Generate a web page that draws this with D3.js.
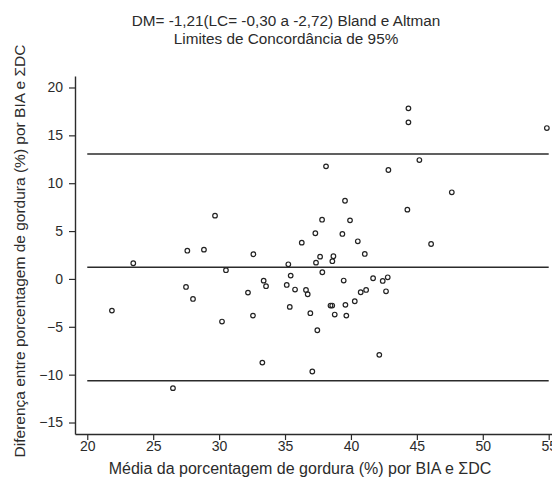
<!DOCTYPE html>
<html>
<head>
<meta charset="utf-8">
<script src="https://cdn.jsdelivr.net/npm/d3@7"></script>
<style>
  html, body { margin: 0; padding: 0; background: #fff; }
  svg { display: block; font-family: "Liberation Sans", Arial, sans-serif; }
</style>
</head>
<body>
<svg id="chart" width="552" height="479"></svg>
<script>
// Bland–Altman data: mean of the two methods (x) and their difference (y)
const meanPct = [
  44.36, 44.36, 54.86, 45.19, 42.84, 38.11, 47.65, 39.55, 44.28, 29.69,
  37.81, 39.93, 37.30, 39.35, 36.27, 40.52, 46.08, 27.59, 28.85, 32.60,
  41.05, 37.66, 38.67, 37.35, 38.59, 23.49, 35.25, 30.52, 37.83, 35.43,
  39.45, 41.68, 42.41, 42.79, 33.38, 33.56, 35.13, 27.49, 35.76, 36.59,
  36.72, 41.15, 40.74, 42.66, 32.19, 28.02, 40.29, 39.58, 38.45, 38.58,
  35.36, 21.87, 36.92, 38.77, 39.65, 32.57, 30.22, 37.45, 42.15, 33.28,
  37.07, 26.50
];
const diffPct = [
  17.82, 16.36, 15.76, 12.42, 11.38, 11.76, 9.05, 8.17, 7.24, 6.61,
  6.19, 6.12, 4.77, 4.70, 3.79, 3.93, 3.65, 2.95, 3.06, 2.58,
  2.61, 2.33, 2.37, 1.70, 1.85, 1.64, 1.53, 0.91, 0.70, 0.35,
  -0.17, 0.07, -0.21, 0.17, -0.18, -0.76, -0.63, -0.84, -1.11, -1.15,
  -1.60, -1.15, -1.39, -1.29, -1.43, -2.09, -2.33, -2.71, -2.78, -2.78,
  -2.92, -3.31, -3.58, -3.72, -3.83, -3.83, -4.45, -5.36, -7.93, -8.74,
  -9.67, -11.41
];

// Mean difference and 95% limits of agreement
const refLines = [13.05, 1.21, -10.65];
const refSpan = [20, 55];

const xTicks = [20, 25, 30, 35, 40, 45, 50, 55];
const yTicks = [-15, -10, -5, 0, 5, 10, 15, 20];
const xExtent = [19.07, 55.25];
const yExtent = [-16.2, 21.2];

const titleLines = [
  "DM= -1,21(LC= -0,30 a -2,72) Bland e Altman",
  "Limites de Concordância de 95%"
];
const xTitle = "Média da porcentagem de gordura (%) por BIA e ΣDC";
const yTitle = "Diferença entre porcentagem de gordura (%) por BIA e ΣDC";

const svg = d3.select("#chart");
const ink = "#2b2b2b";

const x = d3.scaleLinear().domain(xExtent).range([75, 552]);
const y = d3.scaleLinear().domain(yExtent).range([434, 76]);

// Axes
const xAxis = svg.append("g")
  .attr("transform", `translate(0,${y(yExtent[0])})`)
  .call(d3.axisBottom(x).tickValues(xTicks).tickSize(6).tickSizeOuter(0).tickPadding(1));
const yAxis = svg.append("g")
  .attr("transform", `translate(${x(xExtent[0])},0)`)
  .call(d3.axisLeft(y).tickValues(yTicks).tickSize(6).tickSizeOuter(0).tickPadding(6));

[xAxis, yAxis].forEach(g => {
  g.select(".domain").attr("stroke", ink).attr("stroke-width", 1.4);
  g.selectAll(".tick line").attr("stroke", ink).attr("stroke-width", 1.2);
  g.selectAll(".tick text")
    .attr("fill", ink)
    .style("font-size", "14px")
    .style("font-family", "'Liberation Sans', Arial, sans-serif");
});

// Reference lines
svg.append("g").selectAll("line")
  .data(refLines)
  .join("line")
  .attr("x1", x(refSpan[0]))
  .attr("x2", x(refSpan[1]))
  .attr("y1", d => y(d))
  .attr("y2", d => y(d))
  .attr("stroke", ink)
  .attr("stroke-width", 1.5);

// Points
svg.append("g").selectAll("circle")
  .data(d3.range(meanPct.length))
  .join("circle")
  .attr("cx", i => x(meanPct[i]))
  .attr("cy", i => y(diffPct[i]))
  .attr("r", 2.3)
  .attr("fill", "none")
  .attr("stroke", "#222")
  .attr("stroke-width", 1.2);

// Titles
svg.append("g").selectAll("text")
  .data(titleLines)
  .join("text")
  .attr("x", 286)
  .attr("y", (d, i) => 26 + i * 18)
  .attr("text-anchor", "middle")
  .attr("fill", ink)
  .style("font-size", "15.3px")
  .text(d => d);

svg.append("text")
  .attr("x", 300)
  .attr("y", 474)
  .attr("text-anchor", "middle")
  .attr("fill", ink)
  .style("font-size", "16px")
  .text(xTitle);

svg.append("text")
  .attr("transform", "translate(25,251) rotate(-90)")
  .attr("text-anchor", "middle")
  .attr("fill", ink)
  .style("font-size", "15.5px")
  .text(yTitle);
</script>
</body>
</html>
